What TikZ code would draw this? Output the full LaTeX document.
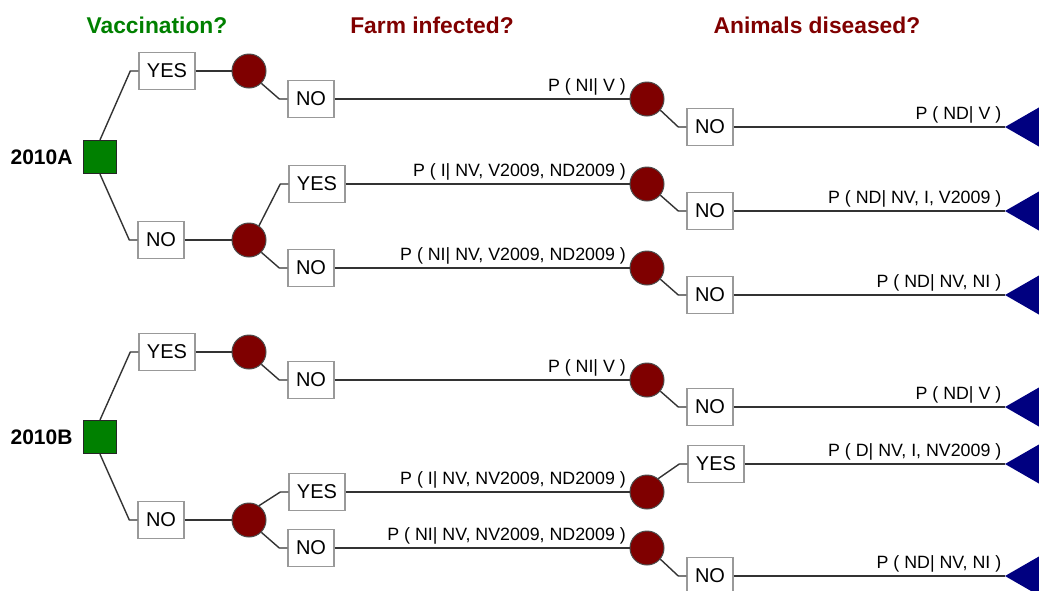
\documentclass[tikz,border=0pt]{standalone}
\usepackage{fontspec}
\setmainfont{Liberation Sans}
\usetikzlibrary{positioning}
\definecolor{vacgreen}{HTML}{008000}
\definecolor{chancered}{HTML}{7F0000}
\definecolor{headred}{HTML}{800000}
\definecolor{termblue}{HTML}{000080}
\begin{document}
\begin{tikzpicture}[x=0.5pt,y=-0.5pt]
\tikzstyle{decision}=[draw=black!85, fill=vacgreen, rectangle, minimum size=16.5pt, inner sep=0pt, line width=0.6pt]
\tikzstyle{chance}=[draw=black!70, fill=chancered, circle, minimum size=17pt, inner sep=0pt, line width=0.5pt]
\tikzstyle{branch}=[draw=gray!80, fill=white, rectangle, minimum height=18.5pt, inner xsep=4pt, line width=0.7pt, font=\fontsize{10}{12}\selectfont]
\tikzstyle{edge}=[draw=black!80, line width=0.7pt]
\tikzstyle{prob}=[pos=1, anchor=south east, inner sep=1.5pt, font=\fontsize{8.9}{10}\selectfont]
\tikzstyle{heading}=[font=\bfseries\fontsize{11.4}{13}\selectfont]
\tikzstyle{yearlbl}=[inner sep=0pt, font=\bfseries\fontsize{10.5}{12}\selectfont]

\clip (0,0) rectangle (1039,590);

% headings
\node[heading, text=vacgreen] (hvac) at (157,25) {Vaccination?};
\node[heading, text=headred] (hfarm) at (432,25) {Farm infected?};
\node[heading, text=headred] (hanim) at (817,25) {Animals diseased?};

% 2010A tree
\node[decision] (dA) at (100,157) {};
\node[yearlbl, left=5pt of dA] (yrA) {2010A};
\node[branch] (yA) at (167,71) {YES};
\node[branch] (nA) at (161,240) {NO};
\node[chance] (c1A) at (249,71) {};
\node[chance] (c2A) at (249,240) {};
\node[branch] (f1A) at (311,99) {NO};
\node[branch] (f2A) at (317,184) {YES};
\node[branch] (f3A) at (311,268) {NO};
\node[chance] (g1A) at (647,99) {};
\node[chance] (g2A) at (647,184) {};
\node[chance] (g3A) at (647,268) {};
\node[branch] (a1A) at (710,127) {NO};
\node[branch] (a2A) at (710,211) {NO};
\node[branch] (a3A) at (710,295) {NO};
\coordinate (t1A) at (1005,127);
\coordinate (t2A) at (1005,211);
\coordinate (t3A) at (1005,295);

\draw[edge] (dA.north) -- ([xshift=-4pt]yA.west) -- (yA.west);
\draw[edge] (dA.south) -- ([xshift=-4pt]nA.west) -- (nA.west);
\draw[edge] (yA) -- (c1A);
\draw[edge] (nA) -- (c2A);
\draw[edge] (c1A.-45) -- ([xshift=-4pt]f1A.west) -- (f1A.west);
\draw[edge] (c2A.55) -- ([xshift=-4pt]f2A.west) -- (f2A.west);
\draw[edge] (c2A.-45) -- ([xshift=-4pt]f3A.west) -- (f3A.west);
\draw[edge] (f1A) -- (g1A) node[prob] {P ( NI| V )};
\draw[edge] (f2A) -- (g2A) node[prob] {P ( I| NV, V2009, ND2009 )};
\draw[edge] (f3A) -- (g3A) node[prob] {P ( NI| NV, V2009, ND2009 )};
\draw[edge] (g1A.-40) -- ([xshift=-4pt]a1A.west) -- (a1A.west);
\draw[edge] (g2A.-40) -- ([xshift=-4pt]a2A.west) -- (a2A.west);
\draw[edge] (g3A.-40) -- ([xshift=-4pt]a3A.west) -- (a3A.west);
\draw[edge] (a1A) -- (t1A) node[prob] {P ( ND| V )};
\draw[edge] (a2A) -- (t2A) node[prob] {P ( ND| NV, I, V2009 )};
\draw[edge] (a3A) -- (t3A) node[prob] {P ( ND| NV, NI )};

% 2010B tree
\node[decision] (dB) at (100,437) {};
\node[yearlbl, left=5pt of dB] (yrB) {2010B};
\node[branch] (yB) at (167,352) {YES};
\node[branch] (nB) at (161,520) {NO};
\node[chance] (c1B) at (249,352) {};
\node[chance] (c2B) at (249,520) {};
\node[branch] (f1B) at (311,380) {NO};
\node[branch] (f2B) at (317,492) {YES};
\node[branch] (f3B) at (311,548) {NO};
\node[chance] (g1B) at (647,380) {};
\node[chance] (g2B) at (647,492) {};
\node[chance] (g3B) at (647,548) {};
\node[branch] (a1B) at (710,407) {NO};
\node[branch] (a2B) at (716,464) {YES};
\node[branch] (a3B) at (710,576) {NO};
\coordinate (t1B) at (1005,407);
\coordinate (t2B) at (1005,464);
\coordinate (t3B) at (1005,576);

\draw[edge] (dB.north) -- ([xshift=-4pt]yB.west) -- (yB.west);
\draw[edge] (dB.south) -- ([xshift=-4pt]nB.west) -- (nB.west);
\draw[edge] (yB) -- (c1B);
\draw[edge] (nB) -- (c2B);
\draw[edge] (c1B.-45) -- ([xshift=-4pt]f1B.west) -- (f1B.west);
\draw[edge] (c2B.55) -- ([xshift=-4pt]f2B.west) -- (f2B.west);
\draw[edge] (c2B.-45) -- ([xshift=-4pt]f3B.west) -- (f3B.west);
\draw[edge] (f1B) -- (g1B) node[prob] {P ( NI| V )};
\draw[edge] (f2B) -- (g2B) node[prob] {P ( I| NV, NV2009, ND2009 )};
\draw[edge] (f3B) -- (g3B) node[prob] {P ( NI| NV, NV2009, ND2009 )};
\draw[edge] (g1B.-40) -- ([xshift=-4pt]a1B.west) -- (a1B.west);
\draw[edge] (g2B.50) -- ([xshift=-4pt]a2B.west) -- (a2B.west);
\draw[edge] (g3B.-40) -- ([xshift=-4pt]a3B.west) -- (a3B.west);
\draw[edge] (a1B) -- (t1B) node[prob] {P ( ND| V )};
\draw[edge] (a2B) -- (t2B) node[prob] {P ( D| NV, I, NV2009 )};
\draw[edge] (a3B) -- (t3B) node[prob] {P ( ND| NV, NI )};

% end triangles
\fill[termblue] (t1A) -- ++(40,-23) -- ++(0,46) -- cycle;
\fill[termblue] (t2A) -- ++(40,-23) -- ++(0,46) -- cycle;
\fill[termblue] (t3A) -- ++(40,-23) -- ++(0,46) -- cycle;
\fill[termblue] (t1B) -- ++(40,-23) -- ++(0,46) -- cycle;
\fill[termblue] (t2B) -- ++(40,-23) -- ++(0,46) -- cycle;
\fill[termblue] (t3B) -- ++(40,-23) -- ++(0,46) -- cycle;

\end{tikzpicture}
\end{document}
